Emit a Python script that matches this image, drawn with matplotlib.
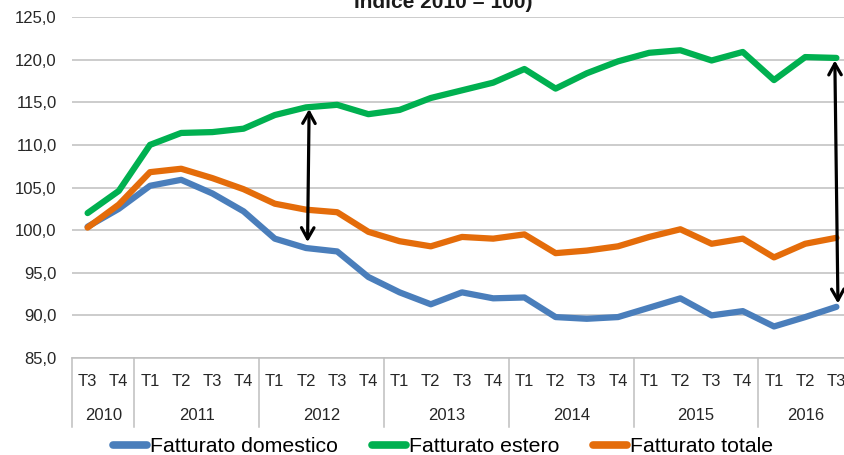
import matplotlib
matplotlib.use("Agg")
import matplotlib.pyplot as plt
from matplotlib.ticker import FuncFormatter

plt.rcParams['font.family'] = ['Liberation Sans Narrow', 'Liberation Sans', 'DejaVu Sans']

quarters = ["T3", "T4",
            "T1", "T2", "T3", "T4",
            "T1", "T2", "T3", "T4",
            "T1", "T2", "T3", "T4",
            "T1", "T2", "T3", "T4",
            "T1", "T2", "T3", "T4",
            "T1", "T2", "T3"]
years = ["2010", "2011", "2012", "2013", "2014", "2015", "2016"]
year_counts = [2, 4, 4, 4, 4, 4, 3]

domestico = [100.4, 102.5, 105.2, 105.9, 104.3, 102.2, 99.0, 97.9, 97.5, 94.5,
             92.7, 91.3, 92.7, 92.0, 92.1, 89.8, 89.6, 89.8, 90.9, 92.0,
             90.0, 90.5, 88.7, 89.8, 91.0]
estero = [102.0, 104.6, 110.0, 111.4, 111.5, 111.9, 113.5, 114.4, 114.7, 113.6,
          114.1, 115.5, 116.4, 117.3, 118.9, 116.6, 118.4, 119.8, 120.8, 121.1,
          119.9, 120.9, 117.6, 120.3, 120.2]
totale = [100.3, 103.0, 106.8, 107.2, 106.1, 104.8, 103.1, 102.4, 102.1, 99.8,
          98.7, 98.1, 99.2, 99.0, 99.5, 97.3, 97.6, 98.1, 99.2, 100.1,
          98.4, 99.0, 96.8, 98.4, 99.1]

series_names = ["Fatturato domestico", "Fatturato estero", "Fatturato totale"]
series_colors = ["#4A7EBB", "#00B050", "#E46C0A"]

arrows = [((7.1, 114.2), (7.05, 98.6)), ((23.95, 119.9), (24.05, 91.4))]

title = "Indice 2010 = 100)"

fig = plt.figure(figsize=(8.45, 4.55), dpi=100)
W, H = 845, 455
ax = fig.add_axes([72 / W, (H - 358) / H, 780 / W, 341 / H])

x = list(range(len(quarters)))
for vals, name, col in zip([domestico, estero, totale], series_names, series_colors):
    ax.plot(x, vals, color=col, lw=4.5, label=name, solid_capstyle='round',
            solid_joinstyle='round', zorder=3)

for (x0, y0), (x1, y1) in arrows:
    ax.annotate("", xy=(x1, y1), xytext=(x0, y0),
                arrowprops=dict(arrowstyle='<->,head_length=0.8,head_width=0.45',
                                color='black', lw=2.3, shrinkA=0, shrinkB=0),
                zorder=4)

ax.set_xlim(-0.5, len(quarters) - 0.5)
ax.set_ylim(85, 125)
ax.set_yticks(range(85, 126, 5))
ax.yaxis.set_major_formatter(FuncFormatter(lambda v, p: f"{v:.1f}".replace(".", ",")))
ax.tick_params(axis='y', length=0, pad=11, labelsize=12, labelcolor='#262626')
ax.set_xticks([])
ax.grid(axis='y', color='#BFBFBF', lw=1.1, zorder=0)
for s in ['top', 'right', 'left']:
    ax.spines[s].set_visible(False)
ax.spines['bottom'].set_color('#BFBFBF')
ax.spines['bottom'].set_linewidth(1.1)

tr = ax.get_xaxis_transform()
px = 1.0 / 341
for i, q in enumerate(quarters):
    ax.text(i, -23 * px, q, transform=tr, ha='center', va='center',
            fontsize=12, color='#262626')
start = 0
bounds = [-0.5]
for yl, n in zip(years, year_counts):
    ax.text(start + (n - 1) / 2, -57 * px, yl, transform=tr, ha='center',
            va='center', fontsize=12, color='#262626')
    start += n
    bounds.append(start - 0.5)
bounds.append(start + 0.5)
for b in bounds:
    ax.plot([b, b], [0, -69 * px], transform=tr, color='#BFBFBF', lw=1.1,
            clip_on=False)

handles, labels = ax.get_legend_handles_labels()
leg = fig.legend(handles, labels, loc='center', bbox_to_anchor=(443 / W, 1 - 447 / H),
                 ncol=3, frameon=False, fontsize=15.3, handlelength=1.6,
                 handletextpad=0.15, columnspacing=1.6, borderaxespad=0)
for h in leg.get_lines():
    h.set_linewidth(5.5)
    h.set_solid_capstyle('round')

fig.text(443 / W, 1 - 8 / H, title, ha='center', va='baseline',
         fontsize=15, fontweight='bold', color='#1a1a1a')

fig.savefig("out.png", dpi=100)
